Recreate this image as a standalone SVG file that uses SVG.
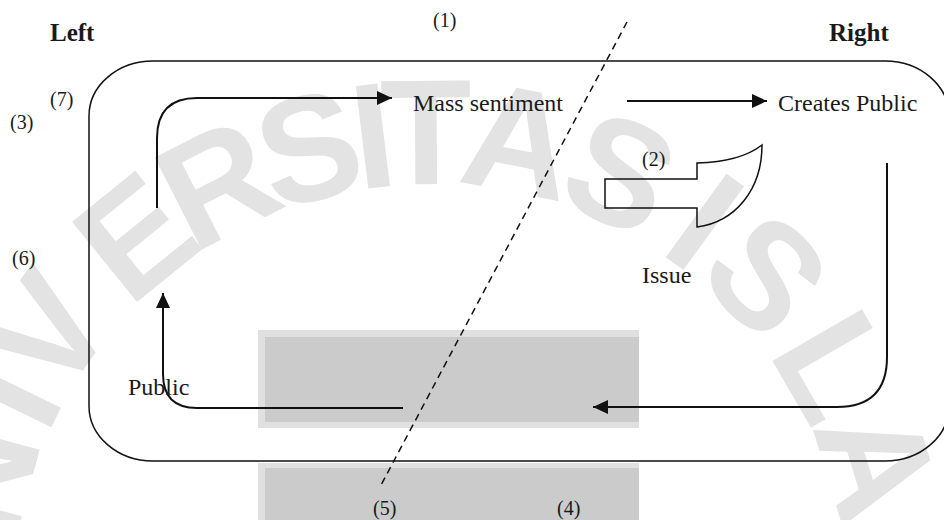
<svg xmlns="http://www.w3.org/2000/svg" width="944" height="520" viewBox="0 0 944 520">
<defs>
<style>
.wm{font-family:"Liberation Sans",Arial,sans-serif;font-weight:bold;font-size:150px;fill:#e3e3e3;text-anchor:middle}
.lbl{font-family:"Liberation Serif","Times New Roman",serif;font-size:24px;fill:#1a1a1a}
.num{font-family:"Liberation Serif","Times New Roman",serif;font-size:20px;fill:#1a1a1a}
.hdr{font-family:"Liberation Serif","Times New Roman",serif;font-size:25px;font-weight:bold;fill:#1a1a1a}
.ln{fill:none;stroke:#111;stroke-width:2}
.thin{fill:none;stroke:#111;stroke-width:1.5}
</style>
<marker id="ah" markerUnits="userSpaceOnUse" markerWidth="16" markerHeight="14" refX="15" refY="7" orient="auto">
<path d="M0,0 L15,7 L0,14 Z" fill="#111"/>
</marker>
</defs>
<rect width="944" height="520" fill="#ffffff"/>
<g id="watermark">
<text class="wm" transform="translate(28.2,492.3) rotate(-75)">N</text>
<text class="wm" transform="translate(56.1,417.6) rotate(-64)">I</text>
<text class="wm" transform="translate(89.2,361.4) rotate(-55)">V</text>
<text class="wm" transform="translate(168.2,276.7) rotate(-39)">E</text>
<text class="wm" transform="translate(241.1,229.3) rotate(-27)">R</text>
<text class="wm" transform="translate(322.3,198.2) rotate(-15)">S</text>
<text class="wm" transform="translate(379.3,187.1) rotate(-7)">I</text>
<text class="wm" transform="translate(426.4,184) rotate(-0.5)">T</text>
<text class="wm" transform="translate(509.4,191.7) rotate(11)">A</text>
<text class="wm" transform="translate(599.2,220) rotate(24)">S</text>
<text class="wm" transform="translate(674.5,263.5) rotate(36)">I</text>
<text class="wm" transform="translate(729.2,311) rotate(46)">S</text>
<text class="wm" transform="translate(790.3,392) rotate(60)">L</text>
<text class="wm" transform="translate(827.8,478.4) rotate(73)">A</text>
</g>
<g id="shading">
<rect x="258" y="330" width="381" height="98" fill="#e0e0e0"/>
<rect x="265" y="337" width="374" height="85" fill="#cbcbcb"/>
<rect x="258" y="463" width="381" height="57" fill="#e0e0e0"/>
<rect x="265" y="468" width="374" height="52" fill="#cbcbcb"/>
</g>
<g id="boundary">
<rect x="89" y="61" width="860" height="400" rx="64" ry="55" class="thin"/>
</g>
<g id="divider">
<line x1="627" y1="22" x2="380" y2="487" stroke="#111" stroke-width="1.5" stroke-dasharray="7 5"/>
</g>
<g id="connectors">
<path class="ln" d="M157,208 V138 Q157,98 197,98 H392" marker-end="url(#ah)"/>
<path class="ln" d="M627,101 H767" marker-end="url(#ah)"/>
<path class="ln" d="M887,163 V357 Q887,407 837,407 H593" marker-end="url(#ah)"/>
<path class="ln" d="M403,408 H197 Q163,408 163,374 V293" marker-end="url(#ah)"/>
</g>
<g id="node-left"><text class="hdr" x="50" y="41">Left</text></g>
<g id="node-right"><text class="hdr" x="829" y="41">Right</text></g>
<g id="node-mass-sentiment"><text class="lbl" x="413" y="111">Mass sentiment</text></g>
<g id="node-creates-public"><text class="lbl" x="778" y="111">Creates Public</text></g>
<g id="node-issue">
<path class="thin" d="M605,179 H697 V163 Q740,162 762,145 C762,190 735,222 697,227 V208 H605 Z"/>
<text class="lbl" x="642" y="283">Issue</text>
</g>
<g id="node-public"><text class="lbl" x="128" y="395">Public</text></g>
<g id="labels">
<text class="num" x="433" y="27">(1)</text>
<text class="num" x="642" y="166">(2)</text>
<text class="num" x="10" y="129">(3)</text>
<text class="num" x="557" y="515">(4)</text>
<text class="num" x="373" y="515">(5)</text>
<text class="num" x="12" y="265">(6)</text>
<text class="num" x="50" y="106">(7)</text>
</g>
</svg>
